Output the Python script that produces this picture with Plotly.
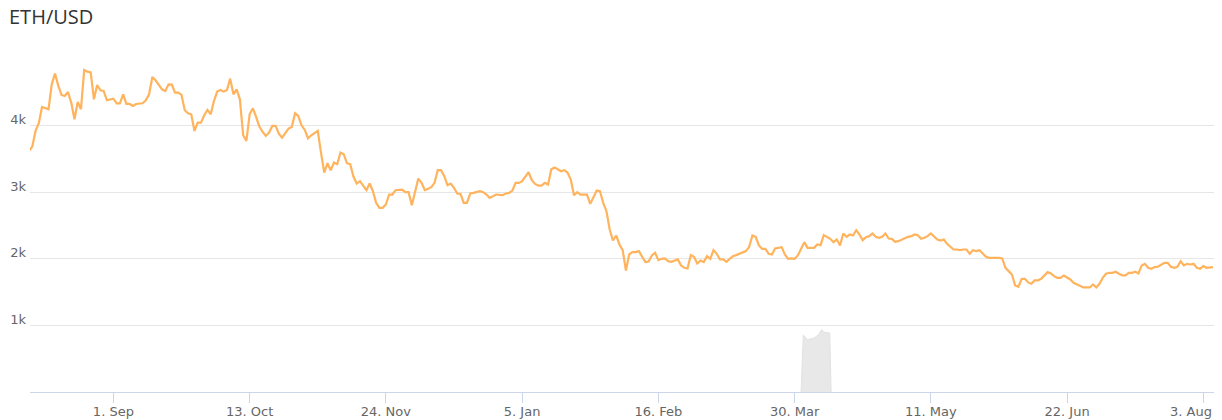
import pandas as pd
import plotly.graph_objects as go

# ---- data -------------------------------------------------------------
start_date = "2025-08-06"

day_offsets = [
    0, 1, 2, 3, 4, 6, 7, 8, 9, 10,
    11, 12, 13, 14, 15, 16, 17, 18, 19, 20,
    21, 22, 23, 24, 26, 27, 28, 29, 30, 31,
    32, 33, 35, 36, 37, 38, 39, 41, 42, 43,
    44, 45, 46, 47, 48, 49, 50, 51, 52, 53,
    54, 55, 56, 57, 58, 59, 60, 61, 62, 63,
    64, 65, 66, 67, 68, 69, 70, 71, 72, 73,
    74, 75, 76, 77, 78, 79, 80, 81, 82, 83,
    84, 85, 86, 87, 88, 89, 90, 91, 92, 93,
    94, 95, 96, 97, 98, 99, 100, 101, 102, 103,
    104, 105, 106, 107, 108, 109, 110, 111, 112, 113,
    114, 115, 116, 117, 118, 119, 120, 121, 122, 123,
    124, 125, 126, 127, 128, 129, 130, 131, 132, 133,
    134, 135, 136, 137, 139, 140, 141, 142, 143, 144,
    146, 147, 148, 149, 150, 151, 152, 153, 154, 155,
    156, 157, 158, 159, 160, 161, 162, 163, 164, 165,
    166, 167, 168, 169, 170, 171, 172, 173, 174, 175,
    176, 177, 178, 179, 180, 181, 182, 183, 184, 185,
    186, 187, 188, 189, 190, 191, 192, 193, 194, 195,
    196, 197, 198, 200, 201, 202, 203, 204, 205, 206,
    207, 208, 209, 210, 211, 212, 213, 214, 215, 216,
    217, 218, 219, 220, 221, 222, 223, 224, 225, 226,
    227, 228, 229, 230, 231, 232, 233, 234, 235, 236,
    237, 238, 239, 240, 241, 242, 243, 244, 245, 246,
    247, 248, 249, 250, 251, 252, 253, 254, 255, 256,
    257, 258, 259, 260, 261, 262, 263, 264, 265, 266,
    267, 268, 270, 271, 272, 273, 274, 275, 276, 277,
    278, 279, 280, 281, 282, 283, 284, 285, 286, 287,
    288, 289, 290, 291, 292, 293, 294, 295, 296, 297,
    298, 299, 300, 301, 302, 303, 304, 305, 306, 307,
    308, 309, 310, 311, 312, 313, 314, 315, 316, 317,
    318, 319, 320, 321, 322, 324, 325, 326, 327, 328,
    329, 330, 331, 332, 333, 334, 335, 336, 337, 338,
    339, 340, 341, 342, 343, 344, 345, 346, 347, 348,
    349, 350, 351, 352, 353, 354, 355, 356, 357, 358,
    359, 360, 361, 362, 363, 365,
]

eth_usd = [
    3620, 3685, 3920, 4035, 4280, 4245, 4620, 4780, 4600, 4460,
    4445, 4505, 4345, 4095, 4355, 4245, 4835, 4810, 4800, 4395,
    4610, 4530, 4520, 4380, 4405, 4335, 4335, 4470, 4325, 4325,
    4295, 4325, 4335, 4380, 4470, 4730, 4680, 4545, 4520, 4620,
    4615, 4495, 4495, 4460, 4230, 4185, 4170, 3920, 4045, 4045,
    4155, 4235, 4170, 4370, 4510, 4535, 4510, 4535, 4705, 4470,
    4545, 4395, 3855, 3770, 4170, 4260, 4130, 3985, 3905, 3845,
    3895, 3995, 3995, 3880, 3820, 3885, 3955, 3980, 4185, 4145,
    4005, 3935, 3810, 3855, 3885, 3920, 3595, 3295, 3435, 3330,
    3445, 3420, 3595, 3570, 3435, 3420, 3235, 3130, 3165, 3090,
    3030, 3130, 3015, 2840, 2765, 2765, 2815, 2965, 2965, 3030,
    3030, 3040, 3000, 3000, 2805, 2990, 3205, 3140, 3030, 3050,
    3075, 3140, 3330, 3330, 3240, 3105, 3130, 3065, 2980, 2975,
    2840, 2840, 2980, 2990, 3015, 3000, 2965, 2915, 2940, 2965,
    2955, 2980, 2990, 3025, 3140, 3140, 3165, 3240, 3300, 3180,
    3125, 3100, 3100, 3140, 3115, 3345, 3370, 3345, 3315, 3330,
    3295, 3190, 2955, 3000, 2965, 2965, 2965, 2825, 2930, 3025,
    3015, 2840, 2715, 2440, 2275, 2350, 2215, 2130, 1825, 2065,
    2100, 2100, 2115, 2025, 1950, 1960, 2050, 2090, 1980, 2000,
    2005, 1965, 1955, 1990, 1900, 1865, 1855, 2055, 2030, 1930,
    1975, 1950, 2040, 2000, 2130, 2075, 1990, 1990, 1955, 2000,
    2040, 2055, 2075, 2090, 2115, 2180, 2350, 2330, 2200, 2150,
    2150, 2075, 2065, 2155, 2165, 2175, 2065, 2000, 2005, 2000,
    2050, 2140, 2250, 2165, 2165, 2165, 2215, 2205, 2355, 2325,
    2300, 2250, 2290, 2200, 2380, 2330, 2365, 2350, 2430, 2365,
    2280, 2325, 2340, 2380, 2330, 2315, 2330, 2380, 2305, 2300,
    2255, 2265, 2315, 2330, 2340, 2365, 2355, 2300, 2315, 2340,
    2380, 2340, 2290, 2275, 2290, 2225, 2175, 2140, 2140, 2130,
    2140, 2140, 2075, 2130, 2115, 2130, 2080, 2030, 2015, 2015,
    2025, 2015, 2005, 1865, 1815, 1765, 1600, 1580, 1700, 1700,
    1645, 1625, 1675, 1675, 1700, 1750, 1800, 1780, 1740, 1715,
    1715, 1750, 1715, 1690, 1640, 1600, 1570, 1570, 1570, 1615,
    1570, 1625, 1715, 1775, 1790, 1790, 1805, 1775, 1750, 1750,
    1790, 1790, 1805, 1780, 1900, 1925, 1865, 1850, 1875, 1880,
    1915, 1940, 1940, 1880, 1865, 1880, 1965, 1900, 1925, 1915,
    1925, 1865, 1850, 1890, 1865, 1875,
]

gray_dates = [
    "2026-04-01 00:00", "2026-04-01 16:00", "2026-04-03 00:00",
    "2026-04-05 00:00", "2026-04-06 08:00", "2026-04-07 08:00",
    "2026-04-08 08:00", "2026-04-09 20:00", "2026-04-10 06:00",
]
gray_values = [0, 855, 785, 810, 860, 935, 895, 885, 0]

tick_dates = ["2025-09-01", "2025-10-13", "2025-11-24", "2026-01-05",
              "2026-02-16", "2026-03-30", "2026-05-11", "2026-06-22",
              "2026-08-03"]
tick_labels = ["1. Sep", "13. Oct", "24. Nov", "5. Jan", "16. Feb",
               "30. Mar", "11. May", "22. Jun", "3. Aug"]

y_tick_values = [0, 1000, 2000, 3000, 4000, 5000]
y_tick_labels = ["", "1k", "2k", "3k", "4k", ""]

title_text = "ETH/USD"

# ---- figure -----------------------------------------------------------
FIG_W, FIG_H = 1222, 420
AXIS_FONT = dict(family="DejaVu Sans", size=13, color="#666666")

dates = pd.to_datetime(start_date) + pd.to_timedelta(day_offsets, unit="D")

fig = go.Figure()
fig.add_trace(go.Scatter(
    x=pd.to_datetime(gray_dates), y=gray_values,
    mode="lines", fill="tozeroy",
    line=dict(color="#e2e2e2", width=1),
    fillcolor="#e8e8e8",
    hoverinfo="skip", showlegend=False,
))
fig.add_trace(go.Scatter(
    x=dates, y=eth_usd,
    mode="lines",
    line=dict(color="#ffb35c", width=2.2),
    name="ETH/USD", showlegend=False,
))

# all but the last tick label are drawn by the axis; the last one is
# right-justified inside the plot edge (as in the reference)
axis_ticktext = tick_labels[:-1] + [""]

fig.update_layout(
    width=FIG_W, height=FIG_H,
    margin=dict(l=30, r=8, t=59, b=28, pad=0, autoexpand=False),
    paper_bgcolor="white", plot_bgcolor="white",
    title=dict(text=title_text, xref="container", yref="container",
               x=9 / FIG_W, y=1 - 17 / FIG_H, xanchor="left", yanchor="middle",
               font=dict(family="Open Sans", size=20, color="#333333")),
    showlegend=False,
    annotations=[dict(
        text=tick_labels[-1], xref="paper", yref="paper",
        x=1.0, y=0, xanchor="right", yanchor="middle",
        yshift=-19, showarrow=False, font=AXIS_FONT,
    )],
)
fig.update_xaxes(
    range=["2025-08-06 07:00", "2026-08-06 07:00"],
    tickvals=pd.to_datetime(tick_dates), ticktext=axis_ticktext,
    automargin=False,
    showgrid=False, zeroline=False,
    showline=True, linecolor="#ccd6eb", linewidth=1,
    ticks="outside", ticklen=10, tickcolor="#ccd6eb", tickwidth=1,
    ticklabelstandoff=-3,
    tickfont=AXIS_FONT,
)
fig.update_yaxes(
    range=[0, 5000],
    tickvals=y_tick_values, ticktext=y_tick_labels,
    automargin=False,
    showgrid=True, gridcolor="#e6e6e6", gridwidth=1,
    zeroline=False, showline=False, ticks="",
    ticklabelstandoff=3, ticklabelshift=-6,
    tickfont=AXIS_FONT,
)

# remove the browser's default 8px page margin so the figure fills the window
fig.write_html("out.html", config={"displayModeBar": False},
               post_script="document.body.style.margin='0';")
